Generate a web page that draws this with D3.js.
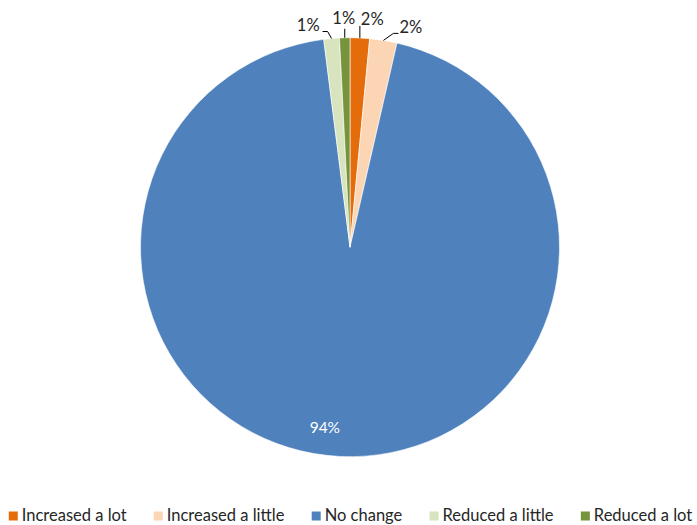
<!DOCTYPE html>
<html>
<head>
<meta charset="utf-8">
<script src="https://cdn.jsdelivr.net/npm/d3@7"></script>
<style>
  html, body { margin: 0; padding: 0; background: #fff; }
  svg { display: block; font-family: Lato, "Open Sans", sans-serif; }
</style>
</head>
<body>
<svg id="chart" width="697" height="525"></svg>
<script>
// Share of responses (%)
const categories = ["Increased a lot", "Increased a little", "No change", "Reduced a little", "Reduced a lot"];
const values = [1.5, 2.1, 94.4, 1.2, 0.8];
const colors = ["#E46C0A", "#FCD5B5", "#4F81BD", "#D7E4BD", "#77933C"];

const W = 697, H = 525;
const cx = 350, cy = 247.2, R = 209.5;
const svg = d3.select("#chart");

const data = categories.map((c, i) => ({ name: c, value: values[i], color: colors[i] }));
const total = d3.sum(values);
const pct = v => Math.round(v / total * 100) + "%";

const pie = d3.pie().value(d => d.value).sort(null);
const arcs = pie(data);
const arc = d3.arc().innerRadius(0).outerRadius(R);

const g = svg.append("g").attr("transform", `translate(${cx},${cy})`);
g.selectAll("path.slice")
  .data(arcs)
  .enter().append("path")
  .attr("class", "slice")
  .attr("d", arc)
  .attr("fill", d => d.data.color)
  .attr("stroke", "#fff")
  .attr("stroke-width", 0.6);

// Point on the rim at the middle of a slice
const rimPoint = (d, r) => {
  const a = (d.startAngle + d.endAngle) / 2;
  return [r * Math.sin(a), -r * Math.cos(a)];
};

// Leader layout for the thin slices: [elbow dx, elbow dy, tail dx, text dx, text baseline dy, anchor]
const leaderLayout = {
  "Increased a lot":    [0, -12, 0, 1, -1, "start"],
  "Increased a little": [10, -7, 5, 6, 0, "start"],
  "Reduced a little":   [-4, -7, -5, -8, -1, "end"],
  "Reduced a lot":      [0, -9, 0, -1, -5, "middle"]
};

const fontSize = 16.5;
arcs.forEach(d => {
  const L = leaderLayout[d.data.name];
  if (L) {
    const [px, py] = rimPoint(d, R);
    const ex = px + L[0], ey = py + L[1];
    const tx = ex + L[2];
    g.append("path")
      .attr("d", `M${px},${py}L${ex},${ey}L${tx},${ey}`)
      .attr("fill", "none")
      .attr("stroke", "#000")
      .attr("stroke-width", 1);
    g.append("text")
      .attr("x", ex + L[3])
      .attr("y", ey + L[4])
      .attr("text-anchor", L[5])
      .attr("font-size", fontSize)
      .attr("fill", "#262626")
      .text(pct(d.data.value));
  } else {
    const [lx, ly] = rimPoint(d, R * 0.87);
    g.append("text")
      .attr("x", lx - 16)
      .attr("y", ly + 4)
      .attr("text-anchor", "middle")
      .attr("font-size", 15.5)
      .attr("fill", "#fff")
      .text(pct(d.data.value));
  }
});

// Legend along the bottom, centred
const legend = svg.append("g");
const items = legend.selectAll("g.item")
  .data(data)
  .enter().append("g")
  .attr("class", "item");
items.append("rect")
  .attr("width", 9).attr("height", 9)
  .attr("y", -9.5)
  .attr("fill", d => d.color);
items.append("text")
  .attr("x", 13)
  .attr("y", 0)
  .attr("font-size", 16.5)
  .attr("fill", "#262626")
  .text(d => d.name);

const gap = 27;
let x = 0;
const offsets = [];
items.each(function() {
  offsets.push(x);
  x += this.getBBox().width + gap;
});
const legendWidth = x - gap;
items.attr("transform", (d, i) => `translate(${offsets[i]},0)`);
legend.attr("transform", `translate(${(W - legendWidth) / 2 + 2},${521})`);
</script>
</body>
</html>
